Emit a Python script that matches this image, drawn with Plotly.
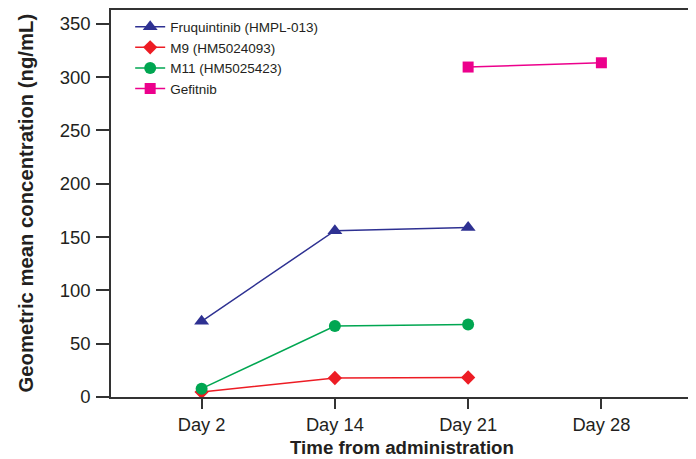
import plotly.graph_objects as go

days = ["Day 2", "Day 14", "Day 21", "Day 28"]
fruq_x = ["Day 2", "Day 14", "Day 21"]
fruq_y = [71, 156, 159]
m9_x = ["Day 2", "Day 14", "Day 21"]
m9_y = [4.7, 17.8, 18.3]
m11_x = ["Day 2", "Day 14", "Day 21"]
m11_y = [7.8, 66.5, 68]
gef_x = ["Day 21", "Day 28"]
gef_y = [309.5, 313.5]

x_title = "Time from administration"
y_title = "Geometric mean concentration (ng/mL)"

fig = go.Figure()
fig.add_trace(go.Scatter(x=fruq_x, y=fruq_y, mode="lines+markers", name="Fruquintinib (HMPL-013)",
                         line=dict(color="#2E3192", width=1.5),
                         marker=dict(symbol="triangle-up", size=13, color="#2E3192")))
fig.add_trace(go.Scatter(x=m9_x, y=m9_y, mode="lines+markers", name="M9 (HM5024093)",
                         line=dict(color="#ED1C24", width=1.5),
                         marker=dict(symbol="diamond", size=11, color="#ED1C24")))
fig.add_trace(go.Scatter(x=m11_x, y=m11_y, mode="lines+markers", name="M11 (HM5025423)",
                         line=dict(color="#00A651", width=1.5),
                         marker=dict(symbol="circle", size=12, color="#00A651")))
fig.add_trace(go.Scatter(x=gef_x, y=gef_y, mode="lines+markers", name="Gefitnib",
                         line=dict(color="#EC008C", width=1.5),
                         marker=dict(symbol="square", size=11, color="#EC008C")))

# the page body has an 8 px default margin, so the figure is sized to fill the rest of the window
fig.update_layout(
    width=688, height=451,
    margin=dict(l=103, r=4, t=2, b=62, autoexpand=False),
    plot_bgcolor="white", paper_bgcolor="white",
    font=dict(family="Liberation Sans, Arial, sans-serif", color="#231F20"),
    showlegend=True,
    legend=dict(x=0.033, y=0.996, xanchor="left", yanchor="top", font=dict(size=13.5),
                bgcolor="rgba(0,0,0,0)", itemwidth=30, tracegroupgap=0),
    annotations=[
        dict(text="<b>%s</b>" % x_title, xref="paper", yref="paper", x=0.5, y=0,
             xanchor="center", yanchor="middle", yshift=-50, showarrow=False,
             font=dict(size=18.7, color="#231F20")),
        dict(text="<b>%s</b>" % y_title, xref="paper", yref="paper", x=0, y=0.5,
             xanchor="center", yanchor="middle", xshift=-86, textangle=-90, showarrow=False,
             font=dict(size=20.3, color="#231F20")),
    ],
)
fig.update_xaxes(
    type="category", categoryorder="array", categoryarray=days,
    range=[-0.68, 3.68], automargin=False,
    showline=True, linecolor="#333333", linewidth=1.5, mirror=True,
    ticks="outside", ticklen=10, tickwidth=1.5, tickcolor="#333333",
    ticklabelstandoff=0,
    showgrid=False, zeroline=False,
    tickfont=dict(size=18.3),
)
fig.update_yaxes(
    range=[0, 363], tickvals=[0, 50, 100, 150, 200, 250, 300, 350], automargin=False,
    showline=True, linecolor="#333333", linewidth=1.5, mirror=True,
    ticks="outside", ticklen=13, tickwidth=1.5, tickcolor="#333333",
    ticklabelstandoff=2,
    showgrid=False, zeroline=False,
    tickfont=dict(size=18.5),
)

fig.write_html("out.html")
